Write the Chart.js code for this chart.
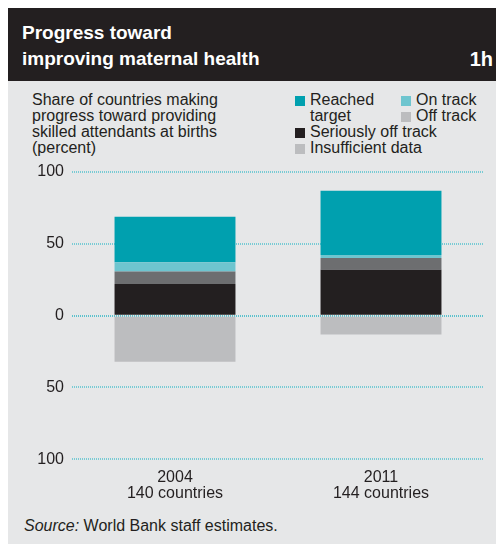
<!DOCTYPE html>
<html lang="en">
<head>
<meta charset="UTF-8">
<title>Progress toward improving maternal health</title>
<script src="https://cdn.jsdelivr.net/npm/chart.js"></script>
<style>
  html, body { margin: 0; padding: 0; background: #fff; }
  body { width: 496px; height: 544px; position: relative; overflow: hidden;
         font-family: "Liberation Sans", Arial, sans-serif; color: #231f20; }
  #header { position: absolute; left: 8px; top: 8px; width: 488px; height: 73px; background: #231f20; }
  #header .title { position: absolute; left: 14px; top: 12px; color: #fff; font-weight: bold;
                   font-size: 19px; line-height: 26px; }
  #header .num { position: absolute; right: 3px; top: 38px; color: #fff; font-weight: bold;
                 font-size: 20px; line-height: 26px; }
  #panel { position: absolute; left: 8px; top: 81px; width: 488px; height: 463px; background: #e6e7e8; }
  #subtitle { position: absolute; left: 32px; top: 92px; font-size: 16px; line-height: 16px; }
  .leg { position: absolute; font-size: 16px; line-height: 16px; }
  .leg .sw { position: absolute; left: -15px; top: 4px; width: 10px; height: 10px; }
  #source { position: absolute; left: 24px; top: 518px; font-size: 16px; line-height: 16px; }
  canvas { position: absolute; left: 0; top: 0; }
</style>
</head>
<body>
<div id="header">
  <div class="title">Progress toward<br>improving maternal health</div>
  <div class="num">1h</div>
</div>
<div id="panel"></div>
<div id="subtitle">Share of countries making<br>progress toward providing<br>skilled attendants at births<br>(percent)</div>
<div id="legend"></div>
<div id="source"><i>Source:</i> World Bank staff estimates.</div>
<canvas id="chart" width="496" height="544"></canvas>
<script>
// years and country counts
const years = ['2004', '2011'];
const countries = ['140 countries', '144 countries'];

// share of countries (percent); insufficient data is plotted below zero
const seriouslyOffTrack = [22.1, 31.9];
const offTrack = [8.6, 8.3];
const onTrack = [6.4, 2.1];
const reachedTarget = [31.8, 44.6];
const insufficientData = [-32.1, -13.2];

const yTicks = [-100, -50, 0, 50, 100];

const colors = {
  reached: '#00a0af',
  onTrack: '#6ec5cf',
  offTrack: '#6d6e70',
  serious: '#231f20',
  insufficient: '#bcbdbf'
};

// legend entries: text lines, swatch colour, position of the text block
const legendItems = [
  { text: 'Reached<br>target', color: colors.reached, x: 310, y: 92 },
  { text: 'On track', color: colors.onTrack, x: 416, y: 92 },
  { text: 'Off track', color: colors.insufficient, x: 416, y: 108 },
  { text: 'Seriously off track', color: colors.serious, x: 310, y: 124 },
  { text: 'Insufficient data', color: colors.insufficient, x: 310, y: 140 }
];
const legendEl = document.getElementById('legend');
legendItems.forEach(item => {
  const d = document.createElement('div');
  d.className = 'leg';
  d.style.left = item.x + 'px';
  d.style.top = item.y + 'px';
  d.innerHTML = '<span class="sw" style="background:' + item.color + '"></span>' + item.text;
  legendEl.appendChild(d);
});

const barOpts = { barPercentage: 0.587, categoryPercentage: 1, borderWidth: 0 };

const ctx = document.getElementById('chart').getContext('2d');
new Chart(ctx, {
  type: 'bar',
  data: {
    labels: years.map((y, i) => [y, countries[i]]),
    datasets: [
      { label: 'Seriously off track', data: seriouslyOffTrack, backgroundColor: colors.serious, ...barOpts },
      { label: 'Off track', data: offTrack, backgroundColor: colors.offTrack, ...barOpts },
      { label: 'On track', data: onTrack, backgroundColor: colors.onTrack, ...barOpts },
      { label: 'Reached target', data: reachedTarget, backgroundColor: colors.reached, ...barOpts },
      { label: 'Insufficient data', data: insufficientData, backgroundColor: colors.insufficient, ...barOpts }
    ]
  },
  options: {
    responsive: false,
    animation: false,
    devicePixelRatio: 1,
    layout: { padding: { top: 172, right: 12, bottom: 0, left: 0 } },
    plugins: { legend: { display: false }, tooltip: { enabled: false } },
    scales: {
      x: {
        stacked: true,
        grid: { display: false, drawTicks: false },
        border: { display: false },
        ticks: {
          padding: 10,
          color: '#231f20',
          font: { family: '"Liberation Sans", Arial, sans-serif', size: 16, lineHeight: 1 }
        },
        afterFit: s => { s.height = 84.7; }
      },
      y: {
        stacked: true,
        min: -100,
        max: 100,
        afterBuildTicks: s => { s.ticks = yTicks.map(v => ({ value: v })); },
        afterFit: s => { s.width = 72; },
        grid: {
          // dotted teal rules, zero line a touch stronger
          color: c => c.tick && c.tick.value === 0 ? '#5cc2cd' : '#78cbd4',
          lineWidth: 2,
          drawTicks: false
        },
        border: { display: false, dash: [1, 1] },
        ticks: {
          padding: 8,
          color: '#231f20',
          font: { family: '"Liberation Sans", Arial, sans-serif', size: 16 },
          callback: v => Math.abs(v)
        }
      }
    }
  }
});
</script>
</body>
</html>
